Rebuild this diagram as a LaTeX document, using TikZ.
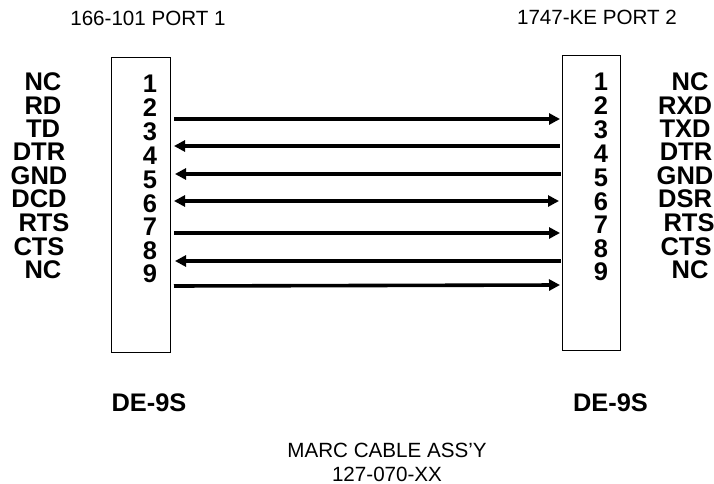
\documentclass[tikz,border=0pt]{standalone}
\usepackage{fontspec}
\setmainfont{Liberation Sans}
\usetikzlibrary{arrows.meta}
\tikzset{
  pinlabel/.style={font=\fontsize{25.5}{25.5}\selectfont\bfseries, inner sep=0pt},
  title/.style={font=\fontsize{20.6}{24.5}\selectfont, inner sep=0pt},
  conntitle/.style={font=\fontsize{25.4}{25.4}\selectfont\bfseries, inner sep=0pt},
  shell/.style={draw, line width=1pt, inner sep=0pt},
  wire/.style={line width=3.6pt, -{Triangle[length=11pt,width=11pt]}},
  wireback/.style={line width=3.6pt, {Triangle[length=11pt,width=11pt]}-},
  wireboth/.style={line width=3.6pt, {Triangle[length=11pt,width=11pt]}-{Triangle[length=11pt,width=11pt]}}
}
\begin{document}
\begin{tikzpicture}[x=1pt, y=-1pt]
\useasboundingbox (0,0) rectangle (714,484);

    \node[title] (port1) at (148,18) {166-101 PORT 1};
    \node[title] (port2) at (597,17) {1747-KE PORT 2};

    \node[shell, minimum width=59.5pt, minimum height=294pt] (shell1) at (140.75,205) {};
    \node[shell, minimum width=58pt, minimum height=294pt] (shell2) at (591.5,203) {};

    \node[pinlabel] (pl1) at (150,84) {1};
    \node[pinlabel] (pl2) at (150,108) {2};
    \node[pinlabel] (pl3) at (150,132) {3};
    \node[pinlabel] (pl4) at (150,155.5) {4};
    \node[pinlabel] (pl5) at (150,179.5) {5};
    \node[pinlabel] (pl6) at (150,203.5) {6};
    \node[pinlabel] (pl7) at (150,227) {7};
    \node[pinlabel] (pl8) at (150,251) {8};
    \node[pinlabel] (pl9) at (150,274) {9};

    \node[pinlabel] (pr1) at (601,82) {1};
    \node[pinlabel] (pr2) at (601,106) {2};
    \node[pinlabel] (pr3) at (601,130) {3};
    \node[pinlabel] (pr4) at (601,153.5) {4};
    \node[pinlabel] (pr5) at (601,177.5) {5};
    \node[pinlabel] (pr6) at (601,201.5) {6};
    \node[pinlabel] (pr7) at (601,225) {7};
    \node[pinlabel] (pr8) at (601,249) {8};
    \node[pinlabel] (pr9) at (601,272) {9};

    \node[pinlabel] (nl1) at (43,82) {NC};
    \node[pinlabel] (nl2) at (43,106) {RD};
    \node[pinlabel] (nl3) at (43,129) {TD};
    \node[pinlabel] (nl4) at (39,152) {DTR};
    \node[pinlabel] (nl5) at (39,176) {GND};
    \node[pinlabel] (nl6) at (39,199) {DCD};
    \node[pinlabel] (nl7) at (44,223) {RTS};
    \node[pinlabel] (nl8) at (39,247) {CTS};
    \node[pinlabel] (nl9) at (43,270) {NC};

    \node[pinlabel] (nr1) at (690,82) {NC};
    \node[pinlabel] (nr2) at (685,106) {RXD};
    \node[pinlabel] (nr3) at (685,129) {TXD};
    \node[pinlabel] (nr4) at (686,152) {DTR};
    \node[pinlabel] (nr5) at (685,176) {GND};
    \node[pinlabel] (nr6) at (685,199) {DSR};
    \node[pinlabel] (nr7) at (689,223) {RTS};
    \node[pinlabel] (nr8) at (686,247) {CTS};
    \node[pinlabel] (nr9) at (690,270) {NC};

    \coordinate (a1) at (174,119);
    \coordinate (b1) at (560,119);
    \coordinate (a2) at (174,146);
    \coordinate (b2) at (560,146);
    \coordinate (a3) at (175,174);
    \coordinate (b3) at (561,174);
    \coordinate (a4) at (174,201);
    \coordinate (b4) at (559,201);
    \coordinate (a5) at (174,233);
    \coordinate (b5) at (560,233);
    \coordinate (a6) at (175,261);
    \coordinate (b6) at (561,261);
    \coordinate (a7) at (174,286);
    \coordinate (b7) at (560,285);

    \draw[wire] (a1) -- (b1);
    \draw[wireback] (a2) -- (b2);
    \draw[wireback] (a3) -- (b3);
    \draw[wireboth] (a4) -- (b4);
    \draw[wire] (a5) -- (b5);
    \draw[wireback] (a6) -- (b6);
    \draw[wire] (a7) -- (b7);

    \node[conntitle] (conn1) at (149,403) {DE-9S};
    \node[conntitle] (conn2) at (610.5,403) {DE-9S};

    \node[title] (cable1) at (387,450) {MARC CABLE ASS'Y};
    \node[title] (cable2) at (387,474) {127-070-XX};
\end{tikzpicture}
\end{document}
